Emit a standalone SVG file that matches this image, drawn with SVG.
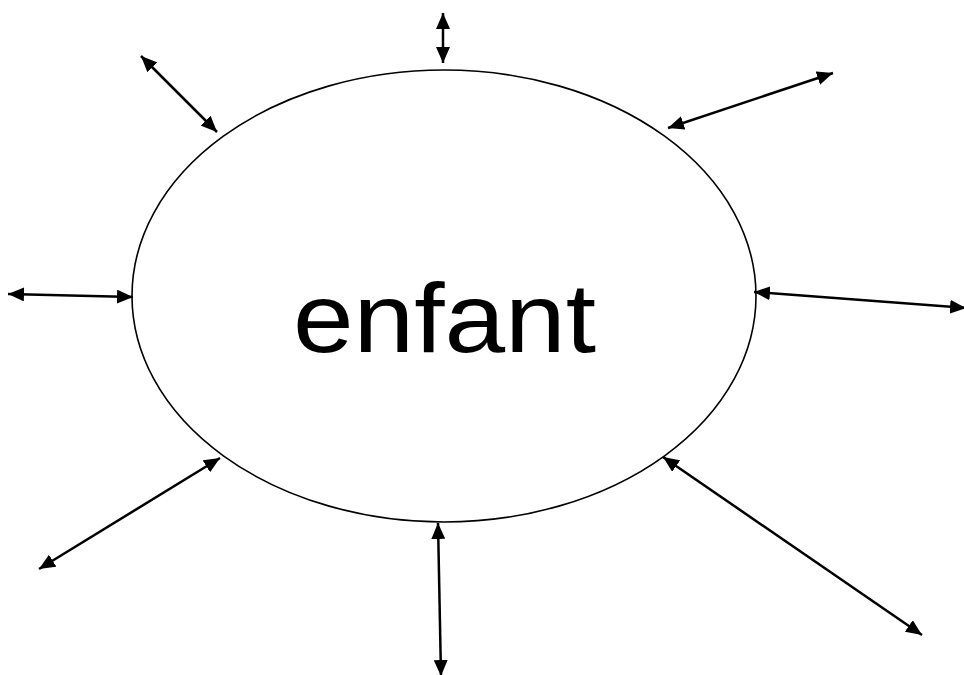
<svg xmlns="http://www.w3.org/2000/svg" width="964" height="675" viewBox="0 0 964 675">
<defs>
<marker id="ah" markerUnits="userSpaceOnUse" markerWidth="16" markerHeight="14" refX="16" refY="7" orient="auto-start-reverse" viewBox="0 0 16 14">
<path d="M0,0 L16,7 L0,14 z" fill="#000"/>
</marker>
<style>
.c{stroke:#000;stroke-width:2.5;fill:none;marker-start:url(#ah);marker-end:url(#ah)}
.n{fill:#fff;stroke:#000;stroke-width:1.6}
.t{font-family:"Liberation Sans",Arial,sans-serif;font-size:98px;fill:#000}
</style>
</defs>
<rect width="964" height="675" fill="#fff"/>
<g id="enfant">
<ellipse class="n" cx="444" cy="296" rx="312" ry="226"/>
<text class="t" x="293" y="352" textLength="303" lengthAdjust="spacingAndGlyphs">enfant</text>
</g>
<g id="connectors">
<line class="c" x1="443" y1="13" x2="443" y2="63"/>
<line class="c" x1="141" y1="56" x2="217" y2="132"/>
<line class="c" x1="668" y1="128" x2="833" y2="73"/>
<line class="c" x1="8" y1="294" x2="133" y2="297"/>
<line class="c" x1="754" y1="292" x2="966" y2="308"/>
<line class="c" x1="39" y1="569" x2="220" y2="458"/>
<line class="c" x1="438" y1="523" x2="441" y2="676"/>
<line class="c" x1="663" y1="457" x2="922" y2="635"/>
</g>
</svg>
